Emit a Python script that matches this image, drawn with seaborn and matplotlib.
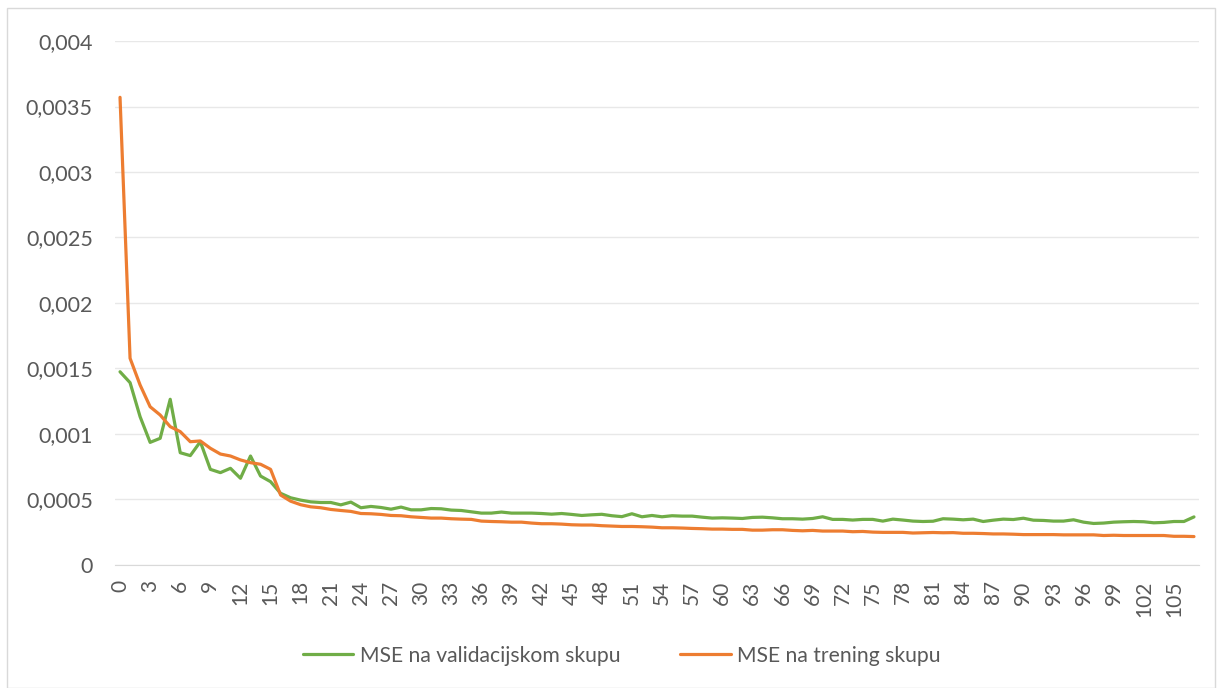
import numpy as np
import pandas as pd
import matplotlib
matplotlib.use("Agg")
import matplotlib.pyplot as plt
import seaborn as sns
from matplotlib.ticker import MultipleLocator, FuncFormatter
from matplotlib.patches import Rectangle

# MSE po epohama (očitano sa slike)
mse_val = [
    0.001475, 0.001392, 0.001132, 0.000936, 0.000967, 0.001265, 0.000857, 0.000835, 0.000941, 0.000730,
    0.000705, 0.000738, 0.000662, 0.000832, 0.000679, 0.000636, 0.000547, 0.000513, 0.000495, 0.000482,
    0.000477, 0.000477, 0.000459, 0.000480, 0.000437, 0.000447, 0.000439, 0.000426, 0.000442, 0.000421,
    0.000421, 0.000431, 0.000429, 0.000419, 0.000416, 0.000406, 0.000396, 0.000396, 0.000404, 0.000396,
    0.000396, 0.000396, 0.000393, 0.000388, 0.000393, 0.000386, 0.000378, 0.000383, 0.000387, 0.000376,
    0.000369, 0.000391, 0.000368, 0.000378, 0.000368, 0.000376, 0.000373, 0.000373, 0.000365, 0.000358,
    0.000360, 0.000358, 0.000355, 0.000363, 0.000365, 0.000360, 0.000353, 0.000353, 0.000350, 0.000355,
    0.000368, 0.000348, 0.000348, 0.000343, 0.000348, 0.000348, 0.000335, 0.000350, 0.000343, 0.000335,
    0.000332, 0.000334, 0.000353, 0.000350, 0.000345, 0.000350, 0.000332, 0.000342, 0.000350, 0.000347,
    0.000357, 0.000342, 0.000340, 0.000335, 0.000335, 0.000345, 0.000327, 0.000317, 0.000320, 0.000327,
    0.000330, 0.000332, 0.000330, 0.000322, 0.000325, 0.000332, 0.000332, 0.000367,
]
mse_train = [
    0.003570, 0.001578, 0.001374, 0.001208, 0.001145, 0.001056, 0.001018, 0.000941, 0.000947, 0.000891,
    0.000847, 0.000832, 0.000802, 0.000781, 0.000769, 0.000730, 0.000534, 0.000487, 0.000460, 0.000444,
    0.000437, 0.000424, 0.000416, 0.000409, 0.000393, 0.000391, 0.000386, 0.000378, 0.000376, 0.000368,
    0.000363, 0.000358, 0.000358, 0.000353, 0.000350, 0.000348, 0.000335, 0.000332, 0.000330, 0.000327,
    0.000327, 0.000320, 0.000315, 0.000315, 0.000312, 0.000307, 0.000305, 0.000305, 0.000300, 0.000297,
    0.000294, 0.000294, 0.000292, 0.000289, 0.000284, 0.000284, 0.000282, 0.000279, 0.000277, 0.000274,
    0.000274, 0.000272, 0.000272, 0.000266, 0.000266, 0.000269, 0.000269, 0.000264, 0.000261, 0.000264,
    0.000259, 0.000259, 0.000259, 0.000254, 0.000256, 0.000251, 0.000249, 0.000249, 0.000249, 0.000244,
    0.000246, 0.000248, 0.000246, 0.000247, 0.000242, 0.000242, 0.000240, 0.000237, 0.000237, 0.000235,
    0.000232, 0.000232, 0.000232, 0.000232, 0.000230, 0.000230, 0.000230, 0.000230, 0.000225, 0.000227,
    0.000225, 0.000225, 0.000225, 0.000225, 0.000225, 0.000219, 0.000219, 0.000217,
]
epohe = list(range(len(mse_val)))
naziv_val = "MSE na validacijskom skupu"
naziv_train = "MSE na trening skupu"

sns.set_style("white")
plt.rcParams['font.family'] = ['Lato', 'DejaVu Sans']

df = pd.DataFrame({"epoha": epohe, "val": mse_val, "train": mse_train})

fig = plt.figure(figsize=(12.17, 6.88), dpi=100)
ax = fig.add_axes([0.0945, 0.1788, 0.8907, 0.7616])

sns.lineplot(data=df, x="epoha", y="val", ax=ax, color="#70AD47", lw=2.3, label=naziv_val)
sns.lineplot(data=df, x="epoha", y="train", ax=ax, color="#ED7D31", lw=2.3, label=naziv_train)

ax.set_xlim(-0.5, len(epohe) - 0.5)
ax.set_ylim(0, 0.004)
ax.yaxis.set_major_locator(MultipleLocator(0.0005))
ax.yaxis.set_major_formatter(FuncFormatter(lambda v, p: f"{round(v, 6):g}".replace(".", ",")))
ax.set_xticks(epohe[::3])
ax.set_xticklabels([str(e) for e in epohe[::3]], rotation=90)
ax.grid(axis="y", color="#E8E8E8", lw=1)
ax.set_axisbelow(True)
for s in ["top", "right", "left"]:
    ax.spines[s].set_visible(False)
ax.spines["bottom"].set_color("#D9D9D9")
ax.tick_params(axis="y", length=0, pad=16, labelsize=15.5, labelcolor="#595959")
ax.tick_params(axis="x", length=0, pad=11, labelsize=15, labelcolor="#595959")
ax.set_xlabel("")
ax.set_ylabel("")

ax.get_legend().remove()
h, l = ax.get_legend_handles_labels()
fig.legend(h, l, loc="center", bbox_to_anchor=(0.511, 0.047), ncol=2, frameon=False,
           fontsize=15.2, handlelength=2.4, handletextpad=0.3, columnspacing=2.85,
           labelcolor="#595959")

# okvir grafikona
fig.patches.append(Rectangle((0.006, 0.0), 0.992, 0.988, transform=fig.transFigure,
                             fill=False, edgecolor="#D9D9D9", lw=1))

fig.savefig("out.png", dpi=100)
